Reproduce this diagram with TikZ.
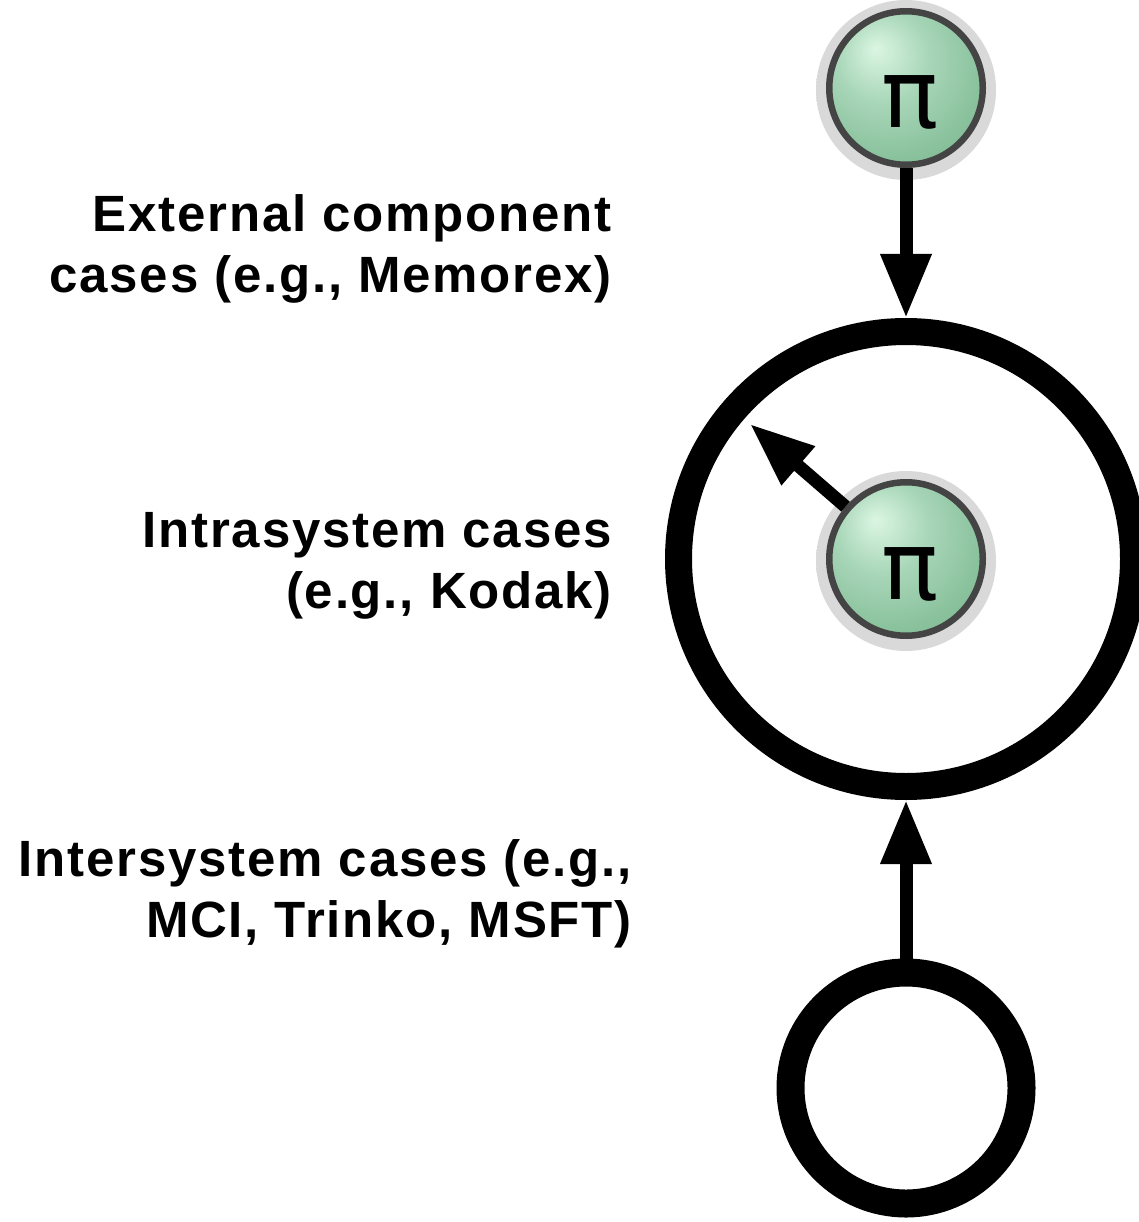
\documentclass[tikz,border=0pt]{standalone}
\usepackage{fontspec}
\setmainfont{Liberation Sans}[LetterSpace=3.5]
\newfontfamily\pifont{DejaVu Sans}
\usetikzlibrary{arrows.meta}
\definecolor{pilight}{HTML}{DBF6E3}
\definecolor{pimid}{HTML}{A8D6B8}
\definecolor{pimid2}{HTML}{80BB94}
\definecolor{pimid3}{HTML}{5E9C74}
\definecolor{pidark}{HTML}{46865C}
\definecolor{piedge}{HTML}{444444}
\pgfdeclareradialshading{pishade}{\pgfpoint{-10bp}{13bp}}{color(0bp)=(pilight); color(15bp)=(pimid); color(35bp)=(pimid2); color(55bp)=(pimid3); color(66bp)=(pidark)}
\pgfdeclareradialshading{halo}{\pgfpoint{0bp}{0bp}}{color(0bp)=(black!15); color(44bp)=(black!15); color(45.5bp)=(black!6); color(48bp)=(black!2); color(50bp)=(white)}
\tikzset{
  picirc/.style={circle, draw=piedge, line width=6.5pt, minimum size=153.5pt, inner sep=0pt,
    shading=pishade,
    font=\pifont\fontsize{95}{95}\selectfont},
  ring/.style={circle, draw=black, inner sep=0pt},
  arr/.style={line width=13pt, -{Triangle[width=48pt,length=64pt]}},
  lbl/.style={align=right, inner sep=0pt, font=\bfseries\fontsize{51}{61}\selectfont}
}
\begin{document}
\begin{tikzpicture}[x=1pt,y=-1pt]
\useasboundingbox[fill=white] (0,0) rectangle (1138,1222);
\node[ring, line width=27pt, minimum size=455pt] (big) at (906,559) {};
\node[ring, line width=28pt, minimum size=231pt] (small) at (906,1088) {};
\shade[shading=halo] (906,90) circle (90);
\shade[shading=halo] (906,561) circle (90);
\node[picirc] (pitop) at (906,88) {\hspace{8pt}\raisebox{-40pt}[0pt][0pt]{π}};
\node[picirc] (piin) at (906,559) {\hspace{8pt}\raisebox{-40pt}[0pt][0pt]{π}};
\coordinate (kt) at (750,424);
\draw[arr] (pitop.south) -- (big.north);
\draw[arr] (small.north) -- (big.south);
\draw[arr] (piin) -- (kt);
\node[lbl, anchor=base east] (t1) at (612,293) {External component\\cases (e.g., Memorex)};
\node[lbl, anchor=base east] (t2) at (612,608) {Intrasystem cases\\(e.g., Kodak)};
\node[lbl, anchor=base east] (t3) at (632,937) {Intersystem cases (e.g.,\\MCI, Trinko, MSFT)};
\end{tikzpicture}
\end{document}
